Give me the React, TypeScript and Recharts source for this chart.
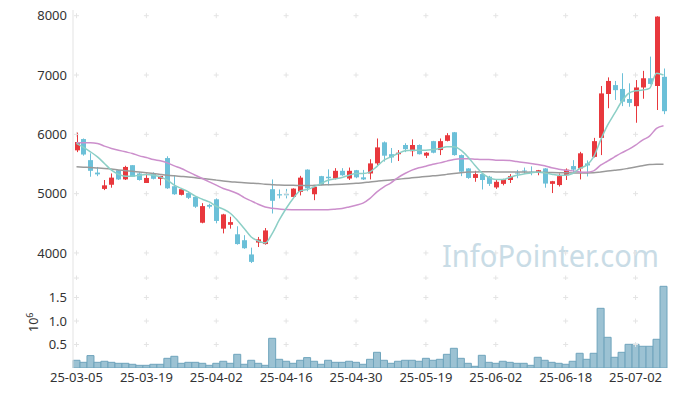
import React from 'react';
import { ComposedChart, Bar, Line, XAxis, YAxis, ReferenceDot } from 'recharts';

const dates = [
  '25-03-05', '25-03-06', '25-03-07', '25-03-10', '25-03-11', '25-03-12', '25-03-13', '25-03-14', '25-03-17', '25-03-18',
  '25-03-19', '25-03-20', '25-03-21', '25-03-24', '25-03-25', '25-03-26', '25-03-27', '25-03-28', '25-03-31', '25-04-01',
  '25-04-02', '25-04-03', '25-04-04', '25-04-07', '25-04-08', '25-04-09', '25-04-10', '25-04-11', '25-04-14', '25-04-15',
  '25-04-16', '25-04-17', '25-04-18', '25-04-21', '25-04-22', '25-04-23', '25-04-24', '25-04-25', '25-04-28', '25-04-29',
  '25-04-30', '25-05-02', '25-05-07', '25-05-08', '25-05-09', '25-05-12', '25-05-13', '25-05-14', '25-05-15', '25-05-16',
  '25-05-19', '25-05-20', '25-05-21', '25-05-22', '25-05-23', '25-05-26', '25-05-27', '25-05-28', '25-05-29', '25-05-30',
  '25-06-02', '25-06-04', '25-06-05', '25-06-09', '25-06-10', '25-06-11', '25-06-12', '25-06-13', '25-06-16', '25-06-17',
  '25-06-18', '25-06-19', '25-06-20', '25-06-23', '25-06-24', '25-06-25', '25-06-26', '25-06-27', '25-06-30', '25-07-01',
  '25-07-02', '25-07-03', '25-07-04', '25-07-07', '25-07-08',
];

const opens = [
  5730, 5920, 5565, 5355, 5080, 5150, 5395, 5240, 5480, 5340,
  5180, 5330, 5250, 5600, 5125, 4980, 5010, 4945, 4510, 4810,
  4905, 4410, 4475, 4315, 4215, 3975, 4175, 4150, 5075, 4990,
  4990, 4945, 5030, 5405, 4990, 5295, 5285, 5255, 5385, 5255,
  5395, 5275, 5340, 5510, 5865, 5665, 5665, 5820, 5715, 5820,
  5640, 5885, 5735, 5890, 6035, 5650, 5425, 5265, 5330, 5285,
  5105, 5165, 5230, 5355, 5390, 5370, 5360, 5425, 5165, 5145,
  5310, 5465, 5425, 5510, 5620, 5940, 6680, 6830, 6765, 6595,
  6475, 6790, 6945, 6815, 6970,
];
const highs = [
  6030, 5930, 5680, 5450, 5230, 5340, 5400, 5470, 5480, 5360,
  5340, 5360, 5300, 5630, 5310, 5090, 5040, 4960, 4840, 4830,
  4920, 4660, 4610, 4450, 4300, 4090, 4270, 4420, 5240, 5070,
  5080, 5090, 5300, 5410, 5140, 5300, 5410, 5430, 5430, 5440,
  5400, 5400, 5580, 5930, 5880, 5770, 5735, 5850, 5915, 5830,
  5700, 5890, 5930, 6020, 6040, 5660, 5430, 5385, 5340, 5300,
  5240, 5250, 5330, 5400, 5440, 5460, 5400, 5430, 5215, 5340,
  5425, 5565, 5705, 5560, 5940, 6815, 6960, 6900, 7030, 6860,
  6915, 7070, 7310, 7990, 7110,
];
const lows = [
  5700, 5640, 5285, 5295, 5060, 5100, 5230, 5230, 5280, 5220,
  5180, 5240, 5140, 5080, 4980, 4970, 4910, 4760, 4500, 4750,
  4500, 4330, 4410, 4140, 4070, 3830, 4100, 4140, 4665, 4920,
  4920, 4940, 4970, 5040, 4890, 5140, 5140, 5240, 5300, 5230,
  5260, 5230, 5240, 5480, 5540, 5520, 5550, 5700, 5630, 5660,
  5600, 5680, 5650, 5880, 5640, 5295, 5250, 5200, 5070, 5130,
  5080, 5140, 5180, 5260, 5330, 5310, 5310, 5100, 5010, 5120,
  5230, 5340, 5240, 5290, 5610, 5650, 6440, 6580, 6475, 6465,
  6195, 6600, 6840, 6410, 6340,
];
const closes = [
  5870, 5660, 5385, 5325, 5140, 5270, 5240, 5450, 5285, 5230,
  5265, 5250, 5300, 5090, 4990, 5075, 4930, 4780, 4790, 4780,
  4540, 4650, 4520, 4150, 4080, 3850, 4230, 4380, 4880, 4970,
  4980, 5085, 5270, 5090, 5115, 5145, 5260, 5385, 5310, 5385,
  5275, 5240, 5510, 5780, 5640, 5610, 5690, 5750, 5820, 5665,
  5690, 5690, 5885, 5985, 5650, 5370, 5265, 5330, 5230, 5165,
  5200, 5245, 5295, 5345, 5380, 5360, 5395, 5170, 5210, 5295,
  5405, 5405, 5680, 5475, 5885, 6690, 6900, 6745, 6550, 6530,
  6790, 6945, 6850, 7985, 6390,
];

const volumes = [
  164000, 121000, 264000, 121000, 143000, 121000, 100000, 100000, 79000, 57000,
  57000, 79000, 79000, 206000, 249000, 100000, 121000, 121000, 100000, 57000,
  100000, 143000, 100000, 291000, 79000, 164000, 100000, 57000, 632000, 185000,
  143000, 100000, 164000, 221000, 143000, 79000, 164000, 121000, 121000, 143000,
  121000, 79000, 185000, 334000, 164000, 100000, 143000, 164000, 164000, 143000,
  206000, 164000, 185000, 291000, 419000, 206000, 100000, 36000, 270000, 121000,
  100000, 143000, 121000, 100000, 100000, 57000, 228000, 164000, 121000, 100000,
  79000, 143000, 313000, 185000, 313000, 1270000, 653000, 228000, 334000, 504000,
  504000, 462000, 462000, 611000, 1738000,
];

// moving averages as drawn on the chart
const ma5 = [
  5846, 5779, 5705, 5620, 5509, 5396, 5328, 5295, 5295, 5311,
  5322, 5311, 5283, 5227, 5143, 5087, 5030, 4957, 4906, 4861,
  4788, 4740, 4670, 4552, 4412, 4270, 4203, 4169, 4327, 4552,
  4750, 4918, 5047, 5070, 5115, 5171, 5227, 5249, 5272, 5311,
  5340, 5340, 5367, 5460, 5565, 5620, 5677, 5722, 5733, 5733,
  5733, 5745, 5762, 5790, 5790, 5733, 5620, 5480, 5350, 5272,
  5238, 5238, 5272, 5311, 5330, 5350, 5367, 5350, 5328, 5311,
  5311, 5340, 5424, 5480, 5620, 5903, 6155, 6353, 6549, 6690,
  6735, 6746, 6775, 7028, 6999,
];
const ma20 = [
  5857, 5857, 5857, 5846, 5801, 5762, 5733, 5705, 5677, 5637,
  5610, 5576, 5553, 5519, 5469, 5424, 5367, 5311, 5255, 5198,
  5143, 5087, 5050, 5002, 4934, 4878, 4822, 4776, 4754, 4742,
  4732, 4730, 4729, 4728, 4728, 4729, 4730, 4738, 4750, 4776,
  4805, 4840, 4920, 5030, 5115, 5182, 5272, 5340, 5396, 5435,
  5463, 5497, 5519, 5548, 5576, 5587, 5587, 5582, 5576, 5576,
  5565, 5565, 5559, 5542, 5525, 5509, 5492, 5469, 5435, 5413,
  5396, 5384, 5367, 5362, 5384, 5480, 5548, 5620, 5688, 5745,
  5818, 5903, 5970, 6100, 6144,
];
const ma60 = [
  5452, 5446, 5440, 5432, 5424, 5414, 5400, 5388, 5376, 5364,
  5352, 5340, 5325, 5311, 5300, 5290, 5280, 5268, 5255, 5242,
  5228, 5214, 5200, 5192, 5184, 5177, 5170, 5160, 5152, 5145,
  5142, 5140, 5138, 5137, 5140, 5145, 5150, 5154, 5160, 5168,
  5175, 5182, 5198, 5210, 5222, 5232, 5243, 5255, 5266, 5278,
  5289, 5300, 5311, 5325, 5339, 5353, 5365, 5367, 5368, 5368,
  5367, 5367, 5366, 5365, 5363, 5361, 5360, 5358, 5356, 5354,
  5352, 5350, 5350, 5350, 5352, 5366, 5380, 5394, 5407, 5428,
  5450, 5470, 5490, 5496, 5497,
];

const priceTicks = [4000, 5000, 6000, 7000, 8000];
const volumeTicks = [500000, 1000000, 1500000];
const dateTicks = dates.filter((_, i) => i % 10 === 0);

const RED = '#e8383d';
const BLUE = '#6cc0d8';
const BORDER = '#e3e3e3';
const FONT = '"Noto Sans", sans-serif';

const data = dates.map((date, i) => ({
  date,
  open: opens[i],
  high: highs[i],
  low: lows[i],
  close: closes[i],
  volume: volumes[i],
  ma5: ma5[i],
  ma20: ma20[i],
  ma60: ma60[i],
}));

const Candle = (props: any) => {
  const { x, y, width, height, payload } = props;
  const { open, close, high, low } = payload;
  const color = close >= open ? RED : BLUE;
  const span = high - low || 1;
  const py = (v: number) => y + ((high - v) / span) * height;
  const cx = Math.round(x + width / 2) + 0.5;
  const top = py(Math.max(open, close));
  const bottom = py(Math.min(open, close));
  return (
    <g>
      <line x1={cx} x2={cx} y1={y} y2={y + height} stroke={color} strokeWidth={1} />
      <rect x={cx - 2.5} y={top} width={5} height={Math.max(bottom - top, 1)} fill={color} />
    </g>
  );
};

const Cross = (p: any) => (
  <path
    d={`M${p.cx - 2.5},${p.cy}H${p.cx + 2.5}M${p.cx},${p.cy - 2.5}V${p.cy + 2.5}`}
    stroke="#e4e4e4"
    strokeWidth={1}
    fill="none"
  />
);

const tickStyle = { fill: '#333', fontSize: 13, fontFamily: FONT };

const VolumeUnit = () => (
  <text transform="translate(38,54) rotate(-90)" fill="#333" fontSize={12.5} fontFamily={FONT}>
    10
    <tspan dy={-5} fontSize={9}>6</tspan>
  </text>
);

export default function App() {
  return (
    <div style={{ position: 'absolute', left: 0, top: 0, width: 677, height: 396, background: '#fff', fontFamily: FONT }}>
      <svg width={677} height={396} style={{ position: 'absolute', left: 0, top: 0 }}>
        <text x={442} y={267} fontSize={30} fontFamily={FONT} fill="#c9dce6" textLength={217} lengthAdjust="spacingAndGlyphs">
          InfoPointer.com
        </text>
      </svg>

      <div style={{ position: 'absolute', left: 0, top: 0 }}>
        <ComposedChart width={677} height={280} data={data} margin={{ top: 10, right: 10, bottom: 2, left: 0 }} barCategoryGap={0}>
          <XAxis dataKey="date" height={0} tick={false} tickLine={false} axisLine={{ stroke: BORDER }} />
          <XAxis xAxisId="top" dataKey="date" orientation="top" height={0} tick={false} tickLine={false} axisLine={{ stroke: BORDER }} />
          <YAxis
            domain={[3578, 8096]}
            ticks={priceTicks}
            allowDataOverflow
            width={73}
            tickSize={0}
            tickMargin={6}
            tick={tickStyle}
            axisLine={{ stroke: BORDER }}
          />
          <YAxis yAxisId="right" orientation="right" width={0} tick={false} tickLine={false} axisLine={{ stroke: BORDER }} />
          {dateTicks.map((d) =>
            priceTicks.map((v) => (
              <ReferenceDot key={`${d}-${v}`} x={d} y={v} r={0} ifOverflow="visible" shape={Cross} />
            ))
          )}
          {dateTicks.map((d) => (
            <ReferenceDot key={`${d}-b`} x={d} y={3578} r={0} ifOverflow="visible" shape={Cross} />
          ))}
          <Bar dataKey={(d: any) => [d.low, d.high]} shape={Candle} isAnimationActive={false} />
          <Line type="monotone" dataKey="ma60" stroke="#9a9a9a" strokeWidth={1.5} dot={false} isAnimationActive={false} />
          <Line type="monotone" dataKey="ma20" stroke="#cc8fcc" strokeWidth={1.5} dot={false} isAnimationActive={false} />
          <Line type="monotone" dataKey="ma5" stroke="#8ccfc6" strokeWidth={1.5} dot={false} isAnimationActive={false} />
        </ComposedChart>
      </div>

      <div style={{ position: 'absolute', left: 0, top: 278 }}>
        <ComposedChart width={677} height={118} data={data} margin={{ top: 0, right: 10, bottom: 0, left: 0 }} barCategoryGap={0}>
          <XAxis
            dataKey="date"
            height={28}
            interval={9}
            tickSize={0}
            tickMargin={5}
            tickLine={false}
            axisLine={false}
            tick={tickStyle}
          />
          <YAxis
            domain={[0, 1915000]}
            ticks={volumeTicks}
            allowDataOverflow
            width={73}
            tickSize={0}
            tickMargin={6}
            tick={tickStyle}
            tickFormatter={(v: number) => (v / 1e6).toFixed(1)}
            axisLine={{ stroke: BORDER }}
            label={{ content: VolumeUnit }}
          />
          <YAxis yAxisId="right" orientation="right" width={0} tick={false} tickLine={false} axisLine={{ stroke: BORDER }} />
          {dateTicks.map((d) =>
            volumeTicks.map((v) => (
              <ReferenceDot key={`${d}-${v}`} x={d} y={v} r={0} ifOverflow="visible" shape={Cross} />
            ))
          )}
          <Bar dataKey="volume" fill="#9cc2d3" stroke="#6fa4bc" strokeWidth={1} isAnimationActive={false} />
        </ComposedChart>
      </div>
    </div>
  );
}
